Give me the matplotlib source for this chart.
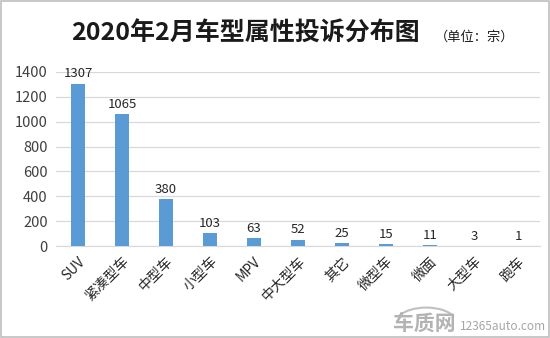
import matplotlib
import matplotlib.pyplot as plt
from matplotlib.patches import Arc

matplotlib.use('Agg')

plt.rcParams['font.family'] = ['Noto Sans CJK SC', 'DejaVu Sans']

# complaint counts per vehicle type
categories = ['SUV', '紧凑型车', '中型车', '小型车', 'MPV', '中大型车', '其它', '微型车', '微面', '大型车', '跑车']
counts = [1307, 1065, 380, 103, 63, 52, 25, 15, 11, 3, 1]
yticks = [0, 200, 400, 600, 800, 1000, 1200, 1400]

fig = plt.figure(figsize=(5.5, 3.38), dpi=100)
ax = fig.add_axes([0.102, 0.272, 0.88, 0.515])

x = range(len(categories))
bars = ax.bar(x, counts, width=0.32, color='#5B9BD5', zorder=3)

# value labels above bars
for i, v in enumerate(counts):
    ax.text(i, v + 25, str(v), ha='center', va='bottom', fontsize=9.5, color='#262626')

ax.set_xlim(-0.5, len(categories) - 0.5)
ax.set_ylim(0, 1400)
ax.set_yticks(yticks)
ax.set_yticklabels([str(t) for t in yticks], fontsize=10.5, color='#404040')
ax.set_xticks(list(x))
ax.set_xticklabels(categories, rotation=45, ha='right', rotation_mode='anchor',
                   fontsize=10, color='#262626')
ax.tick_params(axis='both', length=0, pad=6)

ax.grid(axis='y', color='#d9d9d9', linewidth=0.9, zorder=0)
for s in ['top', 'right', 'left']:
    ax.spines[s].set_visible(False)
ax.spines['bottom'].set_color('#d9d9d9')

# title and unit
fig.text(0.447, 0.9, '2020年2月车型属性投诉分布图', ha='center', va='center',
         fontsize=18, fontweight='bold', color='#1a1a1a')
fig.text(0.863, 0.89, '（单位：宗）', ha='center', va='center', fontsize=9.5, color='#1a1a1a')

# site mark in the corner
fig.text(0.715, 0.045, '车质网', ha='left', va='center', fontsize=15, fontweight='bold',
         color='#b3b3b3')
fig.text(0.836, 0.035, '12365auto.com', ha='left', va='center', fontsize=8.5, color='#a6a6a6')
fig.patches.append(Arc((0.775, 0.045), 0.11, 0.09, theta1=20, theta2=160,
                       transform=fig.transFigure, color='#c0c0c0', linewidth=1.5))

# outer frame
fig.patches.append(plt.Rectangle((0.002, 0.003), 0.996, 0.994, transform=fig.transFigure,
                                 fill=False, edgecolor='#bfbfbf', linewidth=1.2))

plt.savefig('out.png', dpi=100)
plt.close()
